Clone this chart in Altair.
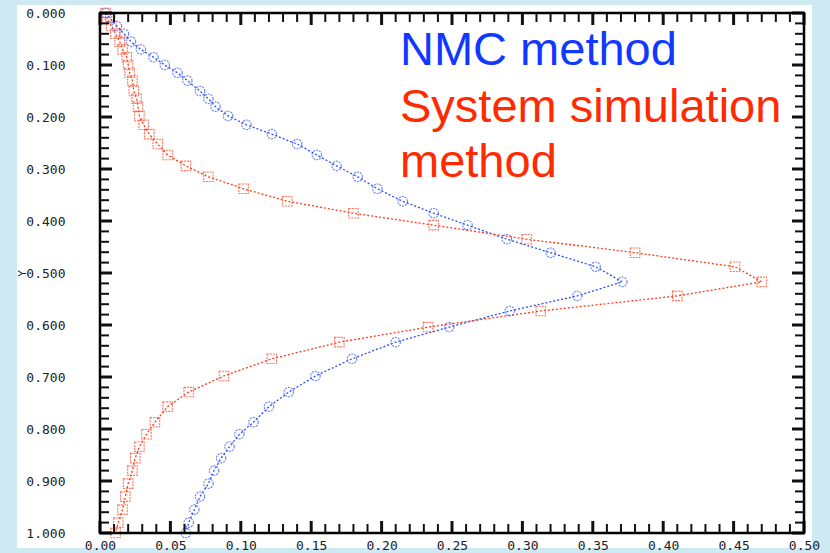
import altair as alt
import pandas as pd

# ---- data ----
DEPTH = [0.0, 0.01, 0.025, 0.04, 0.055, 0.07, 0.085, 0.10, 0.115, 0.13, 0.15, 0.165,
         0.18, 0.198, 0.215, 0.233, 0.252, 0.273, 0.294, 0.315, 0.338, 0.362, 0.385,
         0.408, 0.435, 0.461, 0.488, 0.517, 0.544, 0.573, 0.604, 0.633, 0.665, 0.698,
         0.729, 0.757, 0.787, 0.810, 0.834, 0.856, 0.880, 0.905, 0.93, 0.955, 0.98, 1.0]
NMC = [0.004, 0.007, 0.012, 0.017, 0.022, 0.029, 0.038, 0.046, 0.055, 0.062, 0.071, 0.077,
       0.082, 0.091, 0.104, 0.122, 0.140, 0.154, 0.168, 0.183, 0.197, 0.215, 0.237,
       0.261, 0.289, 0.320, 0.352, 0.371, 0.339, 0.291, 0.248, 0.210, 0.179, 0.153,
       0.134, 0.120, 0.109, 0.099, 0.092, 0.086, 0.081, 0.077, 0.071, 0.067, 0.063, 0.061]
SYS = [0.004, 0.005, 0.008, 0.011, 0.014, 0.016, 0.019, 0.020, 0.021, 0.023, 0.024, 0.026,
       0.027, 0.028, 0.031, 0.035, 0.041, 0.048, 0.061, 0.077, 0.102, 0.133, 0.180,
       0.237, 0.303, 0.380, 0.451, 0.470, 0.410, 0.313, 0.233, 0.170, 0.122, 0.088,
       0.063, 0.048, 0.039, 0.033, 0.028, 0.025, 0.023, 0.020, 0.018, 0.016, 0.013, 0.011]
SERIES = ["NMC method", "System simulation method"]
LABEL_LINES = ["NMC method", "System simulation", "method"]

X_MAJOR = [0.0, 0.05, 0.10, 0.15, 0.20, 0.25, 0.30, 0.35, 0.40, 0.45, 0.50]
X_MINOR = [i / 100 for i in range(51) if i % 5]
Y_MAJOR = [0.0, 0.1, 0.2, 0.3, 0.4, 0.5, 0.6, 0.7, 0.8, 0.9, 1.0]
Y_MINOR = [i / 50 for i in range(51) if i % 5]

BLUE = "#1038ff"
RED = "#ff2a00"
W, H = 704, 520

rows = []
for i, (d, a, b) in enumerate(zip(DEPTH, NMC, SYS)):
    rows.append({"s": SERIES[0], "x": a, "y": d, "i": i})
    rows.append({"s": SERIES[1], "x": b, "y": d, "i": i})
df = pd.DataFrame(rows)

xscale = alt.Scale(domain=[0, 0.5], nice=False)
yscale = alt.Scale(domain=[0, 1], nice=False, reverse=True)
cscale = alt.Scale(domain=SERIES, range=["#2a4cff", "#ff3a16"])
sscale = alt.Scale(domain=SERIES, range=["circle", "square"])

FONT = "DejaVu Sans Mono"
AX = alt.Axis(values=X_MAJOR, format=".2f", title=None, ticks=False, domain=False,
              grid=False, labelFont=FONT, labelFontSize=13, labelColor="#222",
              labelPadding=6, labelFlush=False, labelOverlap=False, zindex=2)
AY = alt.Axis(values=Y_MAJOR, format=".3f", title="Y", ticks=False, domain=False,
              grid=False, labelFont=FONT, labelFontSize=13, labelColor="#222",
              labelPadding=35, labelFlush=False, labelOverlap=False,
              titleFont=FONT, titleFontSize=11,
              titleFontWeight="normal", titleX=-78, titleY=260,
              titleAlign="center", titleBaseline="middle", titleColor="#222", zindex=2)


def X(field):
    return alt.X(field, scale=xscale, axis=AX)


def Y(field):
    return alt.Y(field, scale=yscale, axis=AY)


one = pd.DataFrame({"a": [0]})

panel = alt.Chart(one).mark_rect(fill="white").encode(
    x=alt.value(-83), x2=alt.value(712), y=alt.value(-8), y2=alt.value(535))
frame = alt.Chart(one).mark_rect(fill=None, stroke="black", strokeWidth=2.5).encode(
    x=alt.value(0), x2=alt.value(W), y=alt.value(0), y2=alt.value(H))

base = alt.Chart(df)
lines = base.mark_line(strokeDash=[2, 2], strokeWidth=1.3).encode(
    x=X("x:Q"), y=Y("y:Q"),
    color=alt.Color("s:N", scale=cscale, legend=None),
    detail="s:N",
    order="i:Q",
)
points = base.mark_point(filled=False, size=90, strokeWidth=1.1, strokeDash=[2, 1]).encode(
    x=X("x:Q"), y=Y("y:Q"),
    color=alt.Color("s:N", scale=cscale, legend=None),
    shape=alt.Shape("s:N", scale=sscale, legend=None),
)


def yticks(vals, length, width):
    d = pd.DataFrame({"y": vals})
    left = alt.Chart(d).mark_rule(color="#111", strokeWidth=width).encode(
        y=Y("y:Q"), x=alt.value(0), x2=alt.value(length))
    right = alt.Chart(d).mark_rule(color="#111", strokeWidth=width).encode(
        y=Y("y:Q"), x=alt.value(W - length), x2=alt.value(W))
    return [left, right]


def xticks(vals, length, width):
    d = pd.DataFrame({"x": vals})
    top = alt.Chart(d).mark_rule(color="#111", strokeWidth=width).encode(
        x=X("x:Q"), y=alt.value(0), y2=alt.value(length))
    bottom = alt.Chart(d).mark_rule(color="#111", strokeWidth=width).encode(
        x=X("x:Q"), y=alt.value(H - length), y2=alt.value(H))
    return [top, bottom]


ticks = (yticks(Y_MAJOR, 12, 3) + yticks(Y_MINOR, 9, 2)
         + xticks(X_MAJOR, 12, 3) + xticks(X_MINOR, 9, 2))


def label(text, color, ypos):
    return alt.Chart(pd.DataFrame({"t": [text]})).mark_text(
        font="Liberation Sans", fontSize=47, color=color, align="left",
        baseline="alphabetic").encode(text="t:N", x=alt.value(300), y=alt.value(ypos))


texts = [label(LABEL_LINES[0], BLUE, 52), label(LABEL_LINES[1], RED, 109),
         label(LABEL_LINES[2], RED, 164)]

chart = alt.layer(panel, lines, points, *ticks, frame, *texts).properties(
    width=W, height=H,
    padding={"left": 100, "top": 13, "right": 26, "bottom": 20},
    autosize=alt.AutoSizeParams(type="none"),
    background="#cfe9f2",
).configure_view(stroke=None)

chart.save("out.html", embed_options={"renderer": "svg", "actions": False})
